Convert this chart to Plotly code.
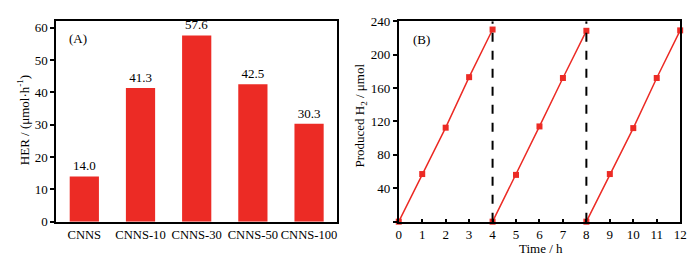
import plotly.graph_objects as go

categories = ["CNNS", "CNNS-10", "CNNS-30", "CNNS-50", "CNNS-100"]
her_values = [14.0, 41.3, 57.6, 42.5, 30.3]

cycle1_time = [0, 1, 2, 3, 4]
cycle1_h2 = [0, 57, 112.5, 173, 230]
cycle2_time = [4, 5, 6, 7, 8]
cycle2_h2 = [0, 56, 114, 172, 228.5]
cycle3_time = [8, 9, 10, 11, 12]
cycle3_h2 = [0, 57, 112, 172, 229]
divider_times = [4, 8]

RED = "#EC2B25"
FONT = "Liberation Serif"
FS = 13
W, H = 700, 276

def px_x(p):
    return p / W

def px_y(p):
    return 1 - p / H

fig = go.Figure()

fig.add_trace(go.Bar(
    x=categories, y=her_values, marker=dict(color=RED, line=dict(width=0)),
    width=0.52, text=[f"{v:.1f}" for v in her_values], textposition="outside",
    constraintext="none",
    textfont=dict(family=FONT, size=FS, color="black"), cliponaxis=False,
    xaxis="x", yaxis="y", showlegend=False,
))

for t, v in [(cycle1_time, cycle1_h2), (cycle2_time, cycle2_h2), (cycle3_time, cycle3_h2)]:
    fig.add_trace(go.Scatter(
        x=t, y=v, mode="lines+markers", line=dict(color=RED, width=1.5),
        marker=dict(symbol="square", size=6, color=RED), cliponaxis=False,
        xaxis="x2", yaxis="y2", showlegend=False,
    ))

for d in divider_times:
    fig.add_trace(go.Scatter(
        x=[d, d], y=[0, 240], mode="lines", line=dict(color="black", width=2, dash="dash"),
        xaxis="x2", yaxis="y2", showlegend=False, hoverinfo="skip",
    ))

base = dict(
    showline=True, linecolor="black", linewidth=2, mirror=True,
    tickwidth=1.5, tickcolor="black",
    showgrid=False, zeroline=False,
    tickfont=dict(family=FONT, size=FS, color="black"),
)

ydom = [px_y(227), px_y(15)]

xaxis_base = {k: v for k, v in base.items() if k != "tickfont"}

fig.update_layout(
    width=W, height=H, margin=dict(l=0, r=0, t=0, b=0),
    paper_bgcolor="white", plot_bgcolor="white",
    xaxis=dict(domain=[px_x(54), px_x(339)], anchor="y", ticks="", tickangle=0,
               tickfont=dict(family=FONT, size=12.6, color="black"), **xaxis_base),
    yaxis=dict(domain=ydom, anchor="x", range=[0, 62], tickvals=[0, 10, 20, 30, 40, 50, 60],
               ticks="outside", ticklen=4, **base),
    xaxis2=dict(domain=[px_x(401.5), px_x(687)], anchor="y2", range=[0, 12], dtick=1, tickangle=0,
                ticks="inside", ticklen=3, **base),
    yaxis2=dict(domain=ydom, anchor="x2", range=[0, 240], tickvals=[0, 40, 80, 120, 160, 200, 240],
                ticktext=["", "40", "80", "120", "160", "200", "240"], ticks="outside", ticklen=4, **base),
    font=dict(family=FONT, color="black"),
)

ann = dict(showarrow=False, font=dict(family=FONT, size=FS, color="black"), xref="paper", yref="paper")
fig.add_annotation(text="(A)", x=px_x(76.5), y=px_y(33), xanchor="center", yanchor="middle", **ann)
fig.add_annotation(text="(B)", x=px_x(425), y=px_y(34), xanchor="center", yanchor="middle", **ann)
fig.add_annotation(text="HER / (μmol·h<sup>-1</sup>)", x=px_x(21), y=px_y(120), textangle=-90,
                   xanchor="center", yanchor="middle", **ann)
fig.add_annotation(text="Produced H<sub>2</sub> / μmol", x=px_x(363), y=px_y(115), textangle=-90,
                   xanchor="center", yanchor="middle", **ann)
fig.add_annotation(text="Time / h", x=px_x(546), y=px_y(255), xanchor="center", yanchor="middle", **ann)

fig.write_html("out.html", config={"displayModeBar": False},
               post_script="document.body.style.margin='0';")
